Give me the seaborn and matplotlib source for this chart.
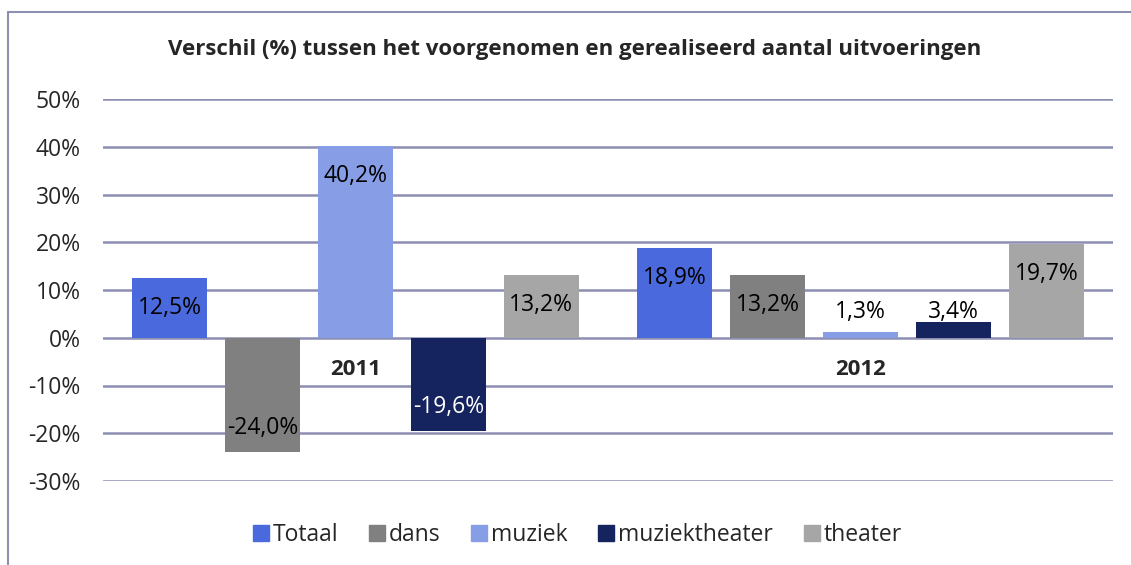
import matplotlib
matplotlib.use('Agg')
import matplotlib.pyplot as plt
from matplotlib.lines import Line2D
from matplotlib.ticker import FuncFormatter
import pandas as pd
import seaborn as sns

# ==========================================
# data
# ==========================================
YEARS = ['2011', '2012']
CATEGORIES = ['Totaal', 'dans', 'muziek', 'muziektheater', 'theater']
VALUES_2011 = [12.5, -24.0, 40.2, -19.6, 13.2]
VALUES_2012 = [18.9, 13.2, 1.3, 3.4, 19.7]
Y_TICKS = [-30, -20, -10, 0, 10, 20, 30, 40, 50]
TITLE = 'Verschil (%) tussen het voorgenomen en gerealiseerd aantal uitvoeringen'

COLORS = ['#4a69dd', '#808080', '#879ee6', '#15235e', '#a6a6a6']
GRID_COLOR = '#8c8fb2'

df = pd.DataFrame({
    'jaar': [y for y in YEARS for _ in CATEGORIES],
    'soort': CATEGORIES * len(YEARS),
    'waarde': VALUES_2011 + VALUES_2012,
})

# ==========================================
# plot
# ==========================================
sns.set_style('white')
plt.rcParams['font.family'] = ['Open Sans', 'DejaVu Sans']

fig = plt.figure(figsize=(11.31, 5.65), dpi=100)
ax = fig.add_axes([103 / 1131, 1 - 481 / 565, 1010 / 1131, 382 / 565])

sns.barplot(data=df, x='jaar', y='waarde', hue='soort', order=YEARS,
            hue_order=CATEGORIES, palette=COLORS, width=0.92, gap=0.2,
            saturation=1, ax=ax, legend=False, errorbar=None, linewidth=0)

ax.set_ylim(-30, 50)
ax.set_yticks(Y_TICKS)
ax.yaxis.set_major_formatter(FuncFormatter(lambda v, p: f'{v:.0f}%'))
ax.tick_params(axis='y', labelsize=16.5, length=0, pad=16)
ax.yaxis.grid(True, color=GRID_COLOR, linewidth=1.8)
ax.set_axisbelow(True)
for s in ax.spines.values():
    s.set_visible(False)

# category labels sit just under the zero line
ax.spines['bottom'].set_position(('data', 0))
ax.tick_params(axis='x', length=0, pad=15)
for lab in ax.get_xticklabels():
    lab.set_fontweight('bold')
    lab.set_fontsize(16)
ax.set_xlabel('')
ax.set_ylabel('')

# data labels
for cat, cont in zip(CATEGORIES, ax.containers):
    for bar in cont:
        v = bar.get_height()
        x = bar.get_x() + bar.get_width() / 2
        txt = f'{v:.1f}%'.replace('.', ',')
        if abs(v) < 5:
            ax.annotate(txt, (x, 0), xytext=(0, 26), textcoords='offset pixels',
                        ha='center', va='center', fontsize=16.5, color='black')
        elif v > 0:
            ax.annotate(txt, (x, v), xytext=(0, -30), textcoords='offset pixels',
                        ha='center', va='center', fontsize=16.5, color='black')
        else:
            col = 'white' if cat == 'muziektheater' else 'black'
            ax.annotate(txt, (x, v), xytext=(0, 24), textcoords='offset pixels',
                        ha='center', va='center', fontsize=16.5, color=col)

fig.text(575 / 1131, 1 - 50 / 565, TITLE, ha='center', va='center',
         fontsize=16, fontweight='bold')

handles = [Line2D([], [], marker='s', linestyle='', markersize=11,
                  markerfacecolor=c, markeredgecolor=c) for c in COLORS]
fig.legend(handles, CATEGORIES, loc='center', bbox_to_anchor=(0.51, 1 - 535 / 565),
           ncol=5, frameon=False, fontsize=16.5, handletextpad=0.1,
           columnspacing=1.3, handlelength=0.8)

# outer chart border (left and top edges visible)
fig.add_artist(Line2D([8 / 1131, 8 / 1131], [0, 1 - 12 / 565],
                      transform=fig.transFigure, color=GRID_COLOR, linewidth=1.5))
fig.add_artist(Line2D([8 / 1131, 1], [1 - 12 / 565, 1 - 12 / 565],
                      transform=fig.transFigure, color=GRID_COLOR, linewidth=1.5))

fig.savefig('out.png', dpi=100)
